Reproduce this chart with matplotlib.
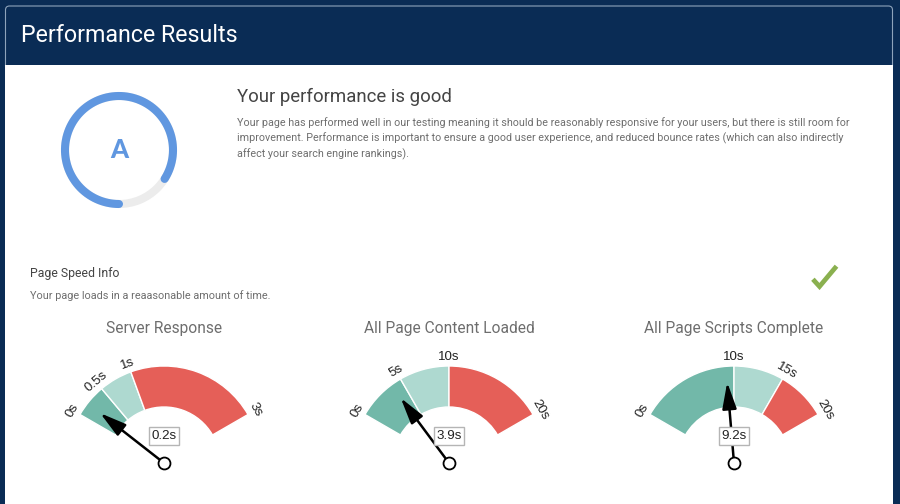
import numpy as np
import matplotlib
matplotlib.use('Agg')
import matplotlib.pyplot as plt
from matplotlib.patches import Wedge, Rectangle, Arc, FancyBboxPatch

# gauge data
gauge_titles = ['Server Response', 'All Page Content Loaded', 'All Page Scripts Complete']
gauge_ticks = [[0, 0.5, 1, 3], [0, 5, 10, 20], [0, 10, 15, 20]]
gauge_tick_labels = [['0s', '0.5s', '1s', '3s'], ['0s', '5s', '10s', '20s'], ['0s', '10s', '15s', '20s']]
gauge_values = [0.2, 3.9, 9.2]
gauge_value_labels = ['0.2s', '3.9s', '9.2s']
grade_score = 84

body_lines = [
    'Your page has performed well in our testing meaning it should be reasonably responsive for your users, but there is still room for',
    'improvement. Performance is important to ensure a good user experience, and reduced bounce rates (which can also indirectly',
    'affect your search engine rankings).',
]

NAVY = '#0a2c55'
ZONE_COLORS = ['#72b8a9', '#aed9d0', '#e55f58']
BLUE = '#6097e0'
GREY_TEXT = '#6e6e6e'

plt.rcParams['font.family'] = ['Roboto', 'DejaVu Sans']

fig = plt.figure(figsize=(9, 5.04), dpi=100, facecolor=NAVY)
ax = fig.add_axes([0, 0, 1, 1])
ax.set_xlim(0, 900)
ax.set_ylim(504, 0)
ax.axis('off')

# panel
ax.add_patch(FancyBboxPatch((5.5, 6), 887, 64, boxstyle='round,pad=0,rounding_size=4',
                            facecolor=NAVY, edgecolor='#8ea3bb', lw=0.8, zorder=1))
ax.add_patch(Rectangle((5, 65), 888, 445, facecolor='white', edgecolor='none', zorder=1.2))
ax.text(21, 36, 'Performance Results', color='white', fontsize=16.75, va='center', zorder=3)

# grade ring
ring_c = (119, 150)
ring_d = 108
ax.add_patch(Arc(ring_c, ring_d, ring_d, theta1=0, theta2=360, color='#ececec', lw=5.8, zorder=2))
sweep = 360 * grade_score / 100
ring_t = np.radians(np.linspace(90, 90 + sweep, 200))
ax.plot(ring_c[0] + ring_d / 2 * np.cos(ring_t), ring_c[1] + ring_d / 2 * np.sin(ring_t),
        color=BLUE, lw=5.8, solid_capstyle='round', zorder=3)
ax.text(119, 150, 'A', color=BLUE, fontsize=18.5, fontweight='black', ha='center', va='center',
        family=['Lato', 'DejaVu Sans'], zorder=3)

# text block
ax.text(237, 97, 'Your performance is good', color='#444444', fontsize=13.4, va='center', zorder=3)
for i, line in enumerate(body_lines):
    ax.text(237, 123 + i * 15.7, line, color=GREY_TEXT, fontsize=7.75, va='center', zorder=3)

ax.text(30, 273, 'Page Speed Info', color='#444444', fontsize=8.85, va='center', zorder=3)
ax.text(30, 296, 'Your page loads in a reaasonable amount of time.', color=GREY_TEXT, fontsize=7.8,
        va='center', zorder=3)

# check mark
ax.plot([814.5, 819.5, 835], [281, 286.5, 268], color='#8ab04f', lw=3.4, zorder=3,
        solid_joinstyle='miter')

# gauges
hub_x = [164, 449, 734]
hub_y = 463
r_out, r_in = 97, 56


def to_angle(v, vmax):
    # 0 -> -60 deg from vertical, vmax -> +60 deg
    return -60 + 120 * v / vmax


for k in range(3):
    cx = hub_x[k]
    ticks = gauge_ticks[k]
    vmax = ticks[-1]
    ax.text(cx, 328, gauge_titles[k], color=GREY_TEXT, fontsize=11.2, ha='center', va='center', zorder=3)

    for j in range(3):
        a0 = to_angle(ticks[j], vmax)
        a1 = to_angle(ticks[j + 1], vmax)
        ax.add_patch(Wedge((cx, hub_y), r_out, a0 - 90, a1 - 90, width=r_out - r_in,
                           facecolor=ZONE_COLORS[j], edgecolor='white', lw=1.0, zorder=2))

    for t, lab in zip(ticks, gauge_tick_labels[k]):
        a = to_angle(t, vmax)
        rad = np.radians(a)
        ax.text(cx + 106 * np.sin(rad), hub_y - 106 * np.cos(rad), lab, rotation=-a,
                rotation_mode='anchor', ha='center', va='center', color='#222222', fontsize=9.6,
                family=['Liberation Sans', 'DejaVu Sans'], zorder=3)

    a = np.radians(to_angle(gauge_values[k], vmax))
    tip = (cx + 81 * np.sin(a), hub_y - 81 * np.cos(a))
    ax.annotate('', xy=tip, xytext=(cx, hub_y), zorder=4,
                arrowprops=dict(arrowstyle='-|>,head_length=1.0,head_width=0.27', color='black',
                                lw=1.8, shrinkA=0, shrinkB=0, mutation_scale=16))
    ax.plot([cx], [hub_y], 'o', ms=8.6, mfc='white', mec='black', mew=1.3, zorder=5)
    ax.text(cx, 436, gauge_value_labels[k], ha='center', va='center', color='#222222', fontsize=9.6,
            family=['Liberation Sans', 'DejaVu Sans'], zorder=6,
            bbox=dict(boxstyle='square,pad=0.2', facecolor='white', edgecolor='#b5b5b5', lw=1.0))

fig.savefig('out.png', dpi=100, facecolor=fig.get_facecolor())
